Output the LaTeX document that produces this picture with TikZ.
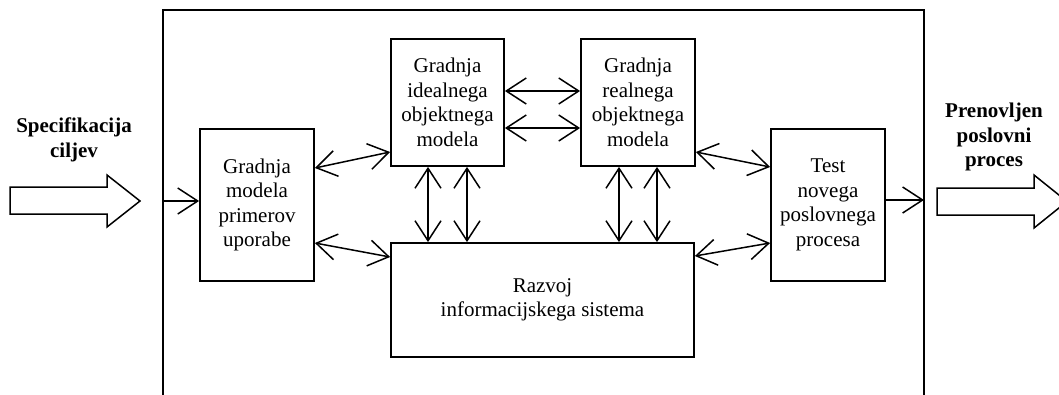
\documentclass[tikz,border=0pt]{standalone}
\usepackage{fontspec}
\setmainfont{Liberation Serif}
\usetikzlibrary{arrows.meta}

\tikzset{
  line/.style={line width=1.5pt},
  box/.style={draw, line width=1.8pt, align=center, inner sep=0pt,
    font=\fontsize{21}{24.5}\selectfont},
  label/.style={align=center, inner sep=0pt,
    font=\fontsize{21}{24.5}\selectfont\bfseries},
  vtip/.tip={Straight Barb[length=20pt,width=26pt,line join=miter]},
  both/.style={line, vtip-vtip},
  oneway/.style={line, -vtip},
  blockarrow/.style={draw, line width=1.5pt, fill=white, line join=miter}
}

\begin{document}
\begin{tikzpicture}[x=1pt, y=-1pt]
  \clip (0,0) rectangle (1059,394);
  \useasboundingbox (0,0) rectangle (1059,394);

  % enclosing frame (runs past the lower edge)
  \node[draw, line width=1.8pt, minimum width=761pt, minimum height=440pt,
        inner sep=0pt, outer sep=0pt] (frame) at (543.5,230) {};

  % process steps
  \node[box, minimum width=114pt, minimum height=152pt] (uc) at (257,205)
    {Gradnja\\modela\\primerov\\uporabe};
  \node[box, minimum width=113pt, minimum height=127pt] (ideal) at (447.5,102.5)
    {Gradnja\\idealnega\\objektnega\\modela};
  \node[box, minimum width=114pt, minimum height=127pt] (real) at (638,102.5)
    {Gradnja\\realnega\\objektnega\\modela};
  \node[box, minimum width=303pt, minimum height=114pt] (razvoj) at (542.5,300)
    {Razvoj\\informacijskega sistema};
  \node[box, minimum width=114pt, minimum height=152pt] (test) at (828,205)
    {Test\\novega\\poslovnega\\procesa};

  % input and output labels
  \node[label] (spec) at (74,140) {Specifikacija\\ciljev};
  \node[label] (out) at (994,137) {Prenovljen\\poslovni\\proces};

  % block arrows for input and output
  \draw[blockarrow] (10,187) -- (107,187) -- (107,175) -- (140,201)
    -- (107,227) -- (107,214) -- (10,214) -- cycle;
  \draw[blockarrow] (937,188) -- (1034,188) -- (1034,175) -- (1067,201.5)
    -- (1034,228) -- (1034,215) -- (937,215) -- cycle;

  % connectors
  \draw[oneway] (frame.west |- 0,201) -- (uc.west |- 0,201);
  \draw[both] (uc.east |- 0,168) -- (ideal.west |- 0,152);
  \draw[both] (uc.east |- 0,243) -- (razvoj.west |- 0,257);
  \draw[both] (ideal.east |- 0,91) -- (real.west |- 0,91);
  \draw[both] (ideal.east |- 0,128) -- (real.west |- 0,128);
  \draw[both] (ideal.south -| 428,0) -- (razvoj.north -| 428,0);
  \draw[both] (ideal.south -| 467,0) -- (razvoj.north -| 467,0);
  \draw[both] (real.south -| 619,0) -- (razvoj.north -| 619,0);
  \draw[both] (real.south -| 657,0) -- (razvoj.north -| 657,0);
  \draw[both] (real.east |- 0,152) -- (test.west |- 0,167);
  \draw[both] (razvoj.east |- 0,256) -- (test.west |- 0,243);
  \draw[oneway] (test.east |- 0,200) -- (frame.east |- 0,200);
\end{tikzpicture}
\end{document}
